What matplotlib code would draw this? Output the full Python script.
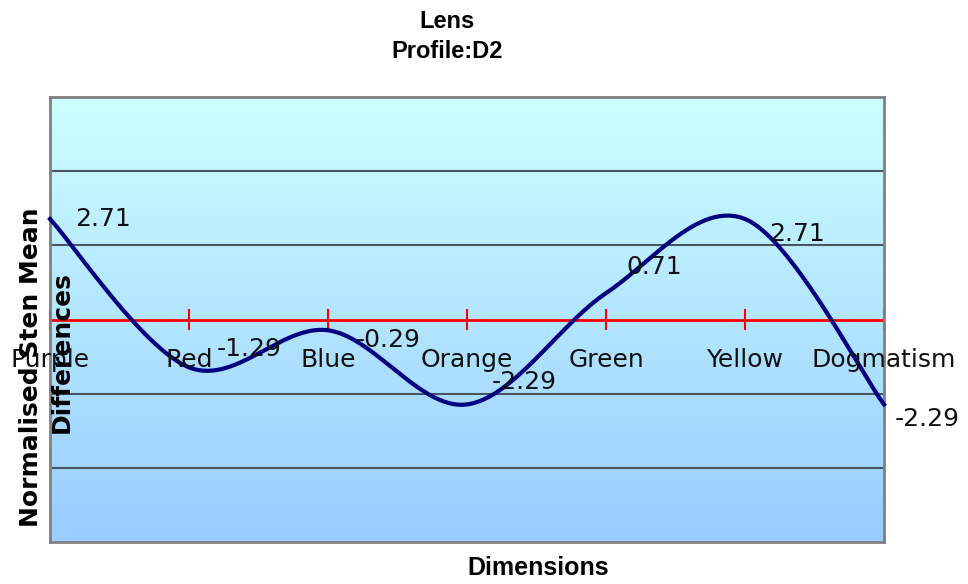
import matplotlib.pyplot as plt
import numpy as np
from matplotlib.colors import LinearSegmentedColormap

# data
categories = ["Purple", "Red", "Blue", "Orange", "Green", "Yellow", "Dogmatism"]
values = [2.71, -1.29, -0.29, -2.29, 0.71, 2.71, -2.29]
value_labels = ["2.71", "-1.29", "-0.29", "-2.29", "0.71", "2.71", "-2.29"]

# label offsets (in data units) to mimic the original placement
label_dx = [0.18, 0.2, 0.2, 0.18, 0.15, 0.17, 0.08]
label_dy = [0.0, 0.5, -0.25, 0.6, 0.7, -0.4, -0.4]


def smooth(xs, ys, n=60):
    # Catmull-Rom style bezier smoothing, like a spreadsheet "smoothed line"
    pts = np.column_stack([xs, ys]).astype(float)
    out = []
    for i in range(len(pts) - 1):
        p0 = pts[i - 1] if i > 0 else pts[i]
        p1 = pts[i]
        p2 = pts[i + 1]
        p3 = pts[i + 2] if i + 2 < len(pts) else pts[i + 1]
        c1 = p1 + (p2 - p0) / 6
        c2 = p2 - (p3 - p1) / 6
        t = np.linspace(0, 1, n)[:, None]
        seg = (1 - t) ** 3 * p1 + 3 * (1 - t) ** 2 * t * c1 + 3 * (1 - t) * t ** 2 * c2 + t ** 3 * p2
        out.append(seg if i == 0 else seg[1:])
    out = np.vstack(out)
    return out[:, 0], out[:, 1]


fig = plt.figure(figsize=(9.68, 5.84), dpi=100)
ax = fig.add_axes([50 / 968, 42 / 584, 834 / 968, 445 / 584])

x = np.arange(len(categories))
xmax = len(categories) - 1

# gradient background, light cyan at top to light blue at bottom
grad = np.linspace(0, 1, 256)[:, None]
cmap = LinearSegmentedColormap.from_list("bg", ["#99ccff", "#ccffff"])
ax.imshow(grad, extent=[0, xmax, -6, 6], origin="lower", aspect="auto", cmap=cmap, zorder=0)
ax.set_xlim(0, xmax)
ax.set_ylim(-6, 6)

for gy in [-4, -2, 2, 4]:
    ax.axhline(gy, color="#4a5560", lw=1.5, zorder=1)

ax.axhline(0, color="#ff0000", lw=2, zorder=2)
for xi in x:
    ax.plot([xi, xi], [-0.25, 0.25], color="#ff0000", lw=1.5, zorder=2, clip_on=False)

sx, sy = smooth(x, values)
ax.plot(sx, sy, color="#000080", lw=3, zorder=3, clip_on=False)

for xi, v, lab, dx, dy in zip(x, values, value_labels, label_dx, label_dy):
    ax.text(xi + dx, v + dy, lab, fontsize=18, fontfamily="DejaVu Sans", ha="left", va="center",
            color="#111111", zorder=4, clip_on=False)

for xi, c in zip(x, categories):
    ax.text(xi, -1.1, c, fontsize=18, fontfamily="DejaVu Sans", ha="center", va="center",
            color="#111111", zorder=4, clip_on=False)

ax.set_xticks([])
ax.set_yticks([])
for s in ax.spines.values():
    s.set_color("#808080")
    s.set_linewidth(2)

fig.text(447 / 968, 1 - 21 / 584, "Lens", fontsize=17, fontweight="bold",
         fontfamily="Liberation Sans", ha="center", va="center")
fig.text(447 / 968, 1 - 51 / 584, "Profile:D2", fontsize=17, fontweight="bold",
         fontfamily="Liberation Sans", ha="center", va="center")
fig.text(538 / 968, 1 - 568 / 584, "Dimensions", fontsize=18, fontweight="bold",
         fontfamily="Liberation Sans", ha="center", va="center")
fig.text(31 / 968, 1 - 367 / 584, "Normalised Sten Mean", fontsize=18,
         fontweight="bold", fontfamily="DejaVu Sans", rotation=90, ha="center", va="center")
fig.text(62 / 968, 1 - 352 / 584, "Differences", fontsize=18,
         fontweight="bold", fontfamily="DejaVu Sans", rotation=90, ha="center", va="center")

fig.savefig("out.png", dpi=100)
